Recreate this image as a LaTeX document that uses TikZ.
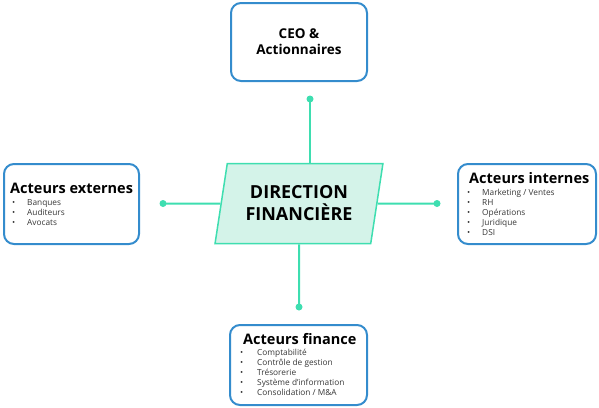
\documentclass[tikz,border=0pt]{standalone}
\usepackage{fontspec}
\setmainfont{Open Sans}
\usetikzlibrary{shapes.geometric}
\definecolor{boxblue}{RGB}{52,140,205}
\definecolor{linkteal}{RGB}{62,222,176}
\definecolor{dirfill}{RGB}{212,243,233}
\definecolor{itemgray}{RGB}{55,55,55}
\begin{document}
\begin{tikzpicture}[x=1pt, y=-1pt,
  box/.style={draw=boxblue, line width=2pt, rounded corners=10pt,
              fill=white, inner sep=0pt},
  title/.style={anchor=base west, inner sep=0pt, font=\fontsize{14.5}{16}\bfseries},
  item/.style={anchor=base west, inner sep=0pt, text=itemgray,
               font=\fontsize{8.3}{10}\selectfont},
  link/.style={draw=linkteal, line width=2pt},
  dot/.style={fill=linkteal}
]
  \useasboundingbox (0,0) rectangle (599,407);
  % boxes
  \node[box, minimum width=136pt, minimum height=78pt, align=center,
        font=\fontsize{13.5}{16}\bfseries] (ceo) at (299,42) {CEO \&\\Actionnaires};
  \node[box, minimum width=135pt, minimum height=80pt] (ext) at (71.5,204) {};
  \node[box, minimum width=138pt, minimum height=80pt] (int) at (527,204) {};
  \node[box, minimum width=137pt, minimum height=80pt] (fin) at (298.5,365) {};
  % centre
  \node[trapezium, trapezium stretches=true, trapezium left angle=75.5,
        trapezium right angle=104.5, minimum width=168pt, minimum height=80pt,
        draw=linkteal, line width=1.5pt, fill=dirfill, inner sep=0pt,
        align=center, font=\fontsize{18}{22}\bfseries] (dir) at (299,203.5)
        {DIRECTION\\FINANCIÈRE};
  % connectors
  \coordinate (dotT) at (310,99);
  \coordinate (dotL) at (163,203.5);
  \coordinate (dotR) at (437,203.5);
  \coordinate (dotB) at (299,307);
  \draw[link] (dotT) -- (dotT |- dir.north);
  \draw[link] (dir.west) -- (dotL);
  \draw[link] (dir.east) -- (dotR);
  \draw[link] (dir.south) -- (dotB);
  \foreach \d in {dotT, dotL, dotR, dotB}
    \fill[dot] (\d) circle (3.5pt);
  % texts
  \node[title] (ext-t) at (10,193) {Acteurs externes};
  \foreach \t [count=\i from 0] in {Banques, Auditeurs, Avocats}
    \node[item] (ext-\i) at (12,205+10*\i) {\makebox[15pt][l]{\textbullet}\t};
  \node[title] (int-t) at (469,183) {Acteurs internes};
  \foreach \t [count=\i from 0] in {Marketing / Ventes, RH, Opérations, Juridique, DSI}
    \node[item] (int-\i) at (467,195+10*\i) {\makebox[15pt][l]{\textbullet}\t};
  \node[title] (fin-t) at (243,344) {Acteurs finance};
  \foreach \t [count=\i from 0] in {Comptabilité, Contrôle de gestion, Trésorerie,
      Système d'information, Consolidation / M\&A}
    \node[item] (fin-\i) at (240,355+10*\i) {\makebox[17pt][l]{\textbullet}\t};
\end{tikzpicture}
\end{document}
